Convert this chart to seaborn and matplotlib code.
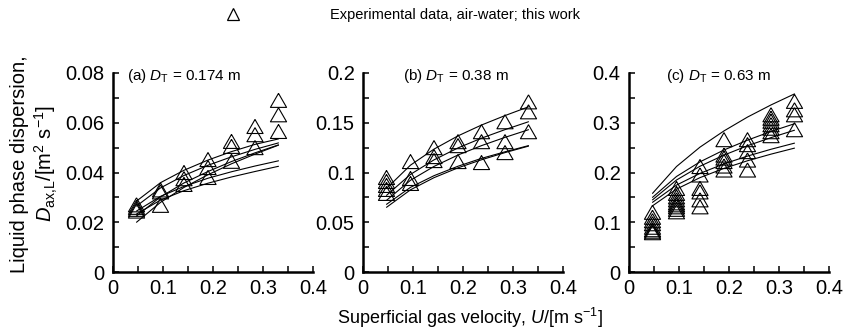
import numpy as np
import pandas as pd
import matplotlib
matplotlib.use("Agg")
import matplotlib.pyplot as plt
import seaborn as sns
from matplotlib.lines import Line2D

sns.set_theme(style="white")
plt.rcParams['font.family'] = ['Liberation Sans', 'DejaVu Sans']
plt.rcParams['text.color'] = 'black'
plt.rcParams['mathtext.fontset'] = 'custom'
plt.rcParams['mathtext.rm'] = 'Liberation Sans'
plt.rcParams['mathtext.it'] = 'Liberation Sans:italic'
plt.rcParams['mathtext.bf'] = 'Liberation Sans:bold'

# ---------------- data ----------------
U = [0.047, 0.095, 0.142, 0.19, 0.237, 0.284, 0.331]

# panel (a) D_T = 0.174 m : experimental points per U
a_pts = [
    [0.0270, 0.0260, 0.0252, 0.0245],
    [0.0330, 0.0322, 0.0268],
    [0.0400, 0.0375, 0.0352],
    [0.0452, 0.0420, 0.0380],
    [0.0525, 0.0505, 0.0445],
    [0.0585, 0.0552, 0.0500],
    [0.0690, 0.0632, 0.0565],
]
a_lines = [
    [0.0285, 0.0359, 0.0409, 0.0450, 0.0484, 0.0513, 0.0535],
    [0.0265, 0.0338, 0.0388, 0.0429, 0.0463, 0.0493, 0.0519],
    [0.0225, 0.0302, 0.0358, 0.0404, 0.0444, 0.0479, 0.0511],
    [0.0200, 0.0280, 0.0340, 0.0391, 0.0435, 0.0474, 0.0510],
    [0.0245, 0.0304, 0.0344, 0.0377, 0.0403, 0.0426, 0.0447],
    [0.0233, 0.0289, 0.0327, 0.0357, 0.0382, 0.0404, 0.0425],
]

# panel (b) D_T = 0.38 m
b_pts = [
    [0.095, 0.091, 0.087, 0.083, 0.079],
    [0.111, 0.094, 0.089],
    [0.125, 0.116, 0.112],
    [0.131, 0.127, 0.111],
    [0.141, 0.131, 0.110],
    [0.151, 0.131, 0.120],
    [0.171, 0.161, 0.141],
]
b_lines = [
    [0.084, 0.1074, 0.1235, 0.1368, 0.1477, 0.1572, 0.166],
    [0.077, 0.0981, 0.1127, 0.1247, 0.1345, 0.1431, 0.151],
    [0.072, 0.0922, 0.1061, 0.1176, 0.1270, 0.1353, 0.143],
    [0.068, 0.0851, 0.0968, 0.1063, 0.1142, 0.1208, 0.127],
    [0.065, 0.0826, 0.0948, 0.1047, 0.1128, 0.1200, 0.1265],
]

# panel (c) D_T = 0.63 m
c_pts = [
    [0.120, 0.110, 0.103, 0.097, 0.090, 0.085, 0.082, 0.079],
    [0.168, 0.158, 0.151, 0.145, 0.139, 0.135, 0.131, 0.126, 0.121],
    [0.212, 0.195, 0.168, 0.161, 0.145, 0.131],
    [0.266, 0.235, 0.229, 0.222, 0.213, 0.205],
    [0.266, 0.256, 0.242, 0.225, 0.205],
    [0.316, 0.309, 0.303, 0.296, 0.289, 0.282, 0.274],
    [0.343, 0.326, 0.316, 0.286],
]
c_lines = [
    [0.158, 0.212, 0.251, 0.2836, 0.3114, 0.3358, 0.358],
    [0.150, 0.192, 0.2214, 0.2453, 0.265, 0.2825, 0.298],
    [0.145, 0.1849, 0.2126, 0.235, 0.2538, 0.2701, 0.285],
    [0.140, 0.1747, 0.1982, 0.2174, 0.233, 0.2467, 0.259],
    [0.133, 0.1666, 0.1897, 0.2083, 0.2236, 0.2369, 0.249],
]

panel_titles = ["(a) $\\mathit{D}_\\mathrm{T}$ = 0.174 m",
                "(b) $\\mathit{D}_\\mathrm{T}$ = 0.38 m",
                "(c) $\\mathit{D}_\\mathrm{T}$ = 0.63 m"]
x_ticks = [0, 0.1, 0.2, 0.3, 0.4]
x_ticklabels = ["0", "0.1", "0.2", "0.3", "0.4"]
y_ticks = [[0, 0.02, 0.04, 0.06, 0.08], [0, 0.05, 0.1, 0.15, 0.2], [0, 0.1, 0.2, 0.3, 0.4]]
y_ticklabels = [["0", "0.02", "0.04", "0.06", "0.08"],
                ["0", "0.05", "0.1", "0.15", "0.2"],
                ["0", "0.1", "0.2", "0.3", "0.4"]]
y_minor_step = [0.01, 0.025, 0.05]
legend_label = "Experimental data, air-water; this work"
xlabel = "Superficial gas velocity, $\\mathit{U}$/[m s$^{-1}$]"
ylabel = "Liquid phase dispersion,\n$\\mathit{D}_\\mathrm{ax{,}L}$/[m$^2$ s$^{-1}$]"

# ---------------- figure ----------------
W, H = 845, 331
fig = plt.figure(figsize=(W / 100, H / 100), dpi=100)
lefts = [113, 363, 629]
aw, ah = 200, 199
bottom_px = 272

tri = [(0, 1), (-1.15, -1), (1.15, -1), (0, 1)]

FS = 14.5
for i, (pts, lines) in enumerate([(a_pts, a_lines), (b_pts, b_lines), (c_pts, c_lines)]):
    ax = fig.add_axes([lefts[i] / W, (H - bottom_px) / H, aw / W, ah / H])
    # lines
    rows = []
    for k, ln in enumerate(lines):
        for u, v in zip(U, ln):
            rows.append((k, u, v))
    ldf = pd.DataFrame(rows, columns=["line", "U", "D"])
    sns.lineplot(data=ldf, x="U", y="D", units="line", estimator=None, sort=False,
                 color="black", lw=0.8, ax=ax, legend=False)
    # points
    prow = []
    for u, vals in zip(U, pts):
        for v in vals:
            prow.append((u, v))
    pdf = pd.DataFrame(prow, columns=["U", "D"])
    sns.scatterplot(data=pdf, x="U", y="D", marker=tri, s=135, color="black",
                    linewidth=0.8, ax=ax, legend=False, zorder=3)
    for coll in ax.collections:
        coll.set_facecolor("none")
        coll.set_edgecolor("black")

    top = y_ticks[i][-1]
    ax.set_xlim(0, 0.4)
    ax.set_ylim(0, top)
    ax.set_xticks(x_ticks)
    ax.set_xticklabels(x_ticklabels)
    ax.set_yticks(y_ticks[i])
    ax.set_yticklabels(y_ticklabels[i])
    ax.set_xticks(np.arange(0.05, 0.4, 0.1), minor=True)
    ax.set_yticks(np.arange(y_minor_step[i], top, 2 * y_minor_step[i]), minor=True)
    ax.tick_params(which="both", direction="in", length=4.5, width=1.1, color="black",
                   labelsize=FS, labelcolor="black", left=True, bottom=True)
    ax.tick_params(axis="y", which="major", pad=6)
    ax.tick_params(axis="x", which="major", pad=5)
    for s in ["top", "right"]:
        ax.spines[s].set_visible(False)
    for s in ["left", "bottom"]:
        ax.spines[s].set_linewidth(1.8)
        ax.spines[s].set_color("black")
    ax.set_xlabel("")
    ax.set_ylabel("")
    ax.grid(False)
    xoff = [14, 40, 37][i]
    ax.text(xoff / aw, 0.985, panel_titles[i], transform=ax.transAxes,
            fontsize=11, ha="left", va="center", color="black")

fig.text(470 / W, 1 - 318 / H, xlabel, ha="center", va="center", fontsize=13, color="black")
fig.text(35 / W, 1 - 164 / H, ylabel, ha="center", va="center", rotation=90,
         fontsize=14.5, color="black", linespacing=1.2, multialignment="center")

handle = Line2D([], [], marker="^", ls="", mfc="none", mec="black", ms=8, mew=0.9)
fig.legend([handle], [legend_label], loc="center left",
           bbox_to_anchor=(226 / W, 1 - 15 / H), frameon=False, fontsize=10.5,
           handlelength=1.0, handletextpad=6.1, borderpad=0, borderaxespad=0,
           labelcolor="black")

fig.savefig("out.png", dpi=100)
